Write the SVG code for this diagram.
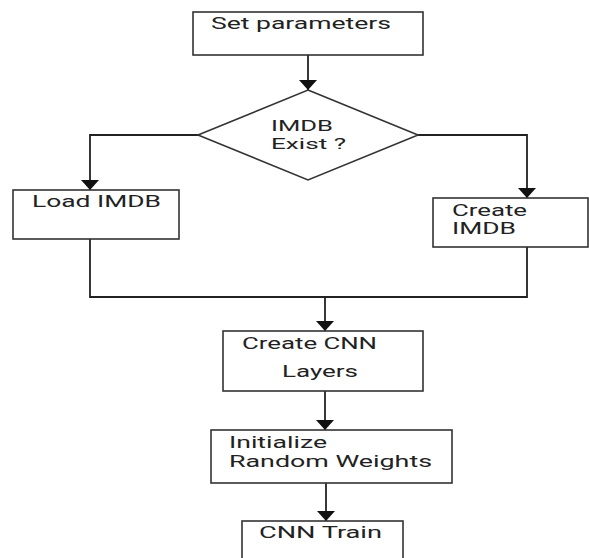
<svg xmlns="http://www.w3.org/2000/svg" width="589" height="558" viewBox="0 0 589 558">
<style>
.box{fill:#fff;stroke:#333;stroke-width:1.6}
.t{font-family:Roboto,"Liberation Sans",sans-serif;font-size:16px;fill:#222}
.s{font-size:15px}
.c{fill:none;stroke:#222;stroke-width:1.8}
</style>
<defs>
<marker id="ah" viewBox="0 0 10 18" refX="10" refY="9" markerWidth="10" markerHeight="18" markerUnits="userSpaceOnUse" orient="auto">
<path d="M0,0 L10,9 L0,18 z" fill="#111"/>
</marker>
</defs>
<rect width="589" height="558" fill="#fff"/>
<g id="connectors">
<path class="c" d="M308,55 V90" marker-end="url(#ah)"/>
<path class="c" d="M198,135 H90 V190" marker-end="url(#ah)"/>
<path class="c" d="M418,135 H527 V198" marker-end="url(#ah)"/>
<path class="c" d="M90,239 V297 H527 V247"/>
<path class="c" d="M325,297 V331" marker-end="url(#ah)"/>
<path class="c" d="M325,391 V430" marker-end="url(#ah)"/>
<path class="c" d="M326,483 V521" marker-end="url(#ah)"/>
</g>
<g id="set-parameters">
<rect class="box" x="193" y="12" width="230" height="43"/>
<text class="t" x="211" y="29" textLength="180" lengthAdjust="spacingAndGlyphs">Set parameters</text>
</g>
<g id="imdb-exist">
<polygon class="box" points="308,90 418,135 308,180 198,135"/>
<text class="t s" x="271" y="131" textLength="62" lengthAdjust="spacingAndGlyphs">IMDB</text>
<text class="t s" x="271" y="149" textLength="75" lengthAdjust="spacingAndGlyphs">Exist ?</text>
</g>
<g id="load-imdb">
<rect class="box" x="13" y="190" width="166" height="49"/>
<text class="t" x="32" y="207" textLength="129" lengthAdjust="spacingAndGlyphs">Load IMDB</text>
</g>
<g id="create-imdb">
<rect class="box" x="433" y="198" width="155" height="49"/>
<text class="t" x="452" y="216" textLength="75" lengthAdjust="spacingAndGlyphs">Create</text>
<text class="t" x="452" y="234" textLength="64" lengthAdjust="spacingAndGlyphs">IMDB</text>
</g>
<g id="create-cnn-layers">
<rect class="box" x="223" y="331" width="200" height="60"/>
<text class="t" x="242" y="349" textLength="135" lengthAdjust="spacingAndGlyphs">Create CNN</text>
<text class="t" x="282" y="377" textLength="76" lengthAdjust="spacingAndGlyphs">Layers</text>
</g>
<g id="initialize-random-weights">
<rect class="box" x="211" y="430" width="241" height="53"/>
<text class="t" x="229" y="448" textLength="98" lengthAdjust="spacingAndGlyphs">Initialize</text>
<text class="t" x="229" y="467" textLength="203" lengthAdjust="spacingAndGlyphs">Random Weights</text>
</g>
<g id="cnn-train">
<rect class="box" x="242" y="521" width="161" height="45"/>
<text class="t" x="259" y="538" textLength="123" lengthAdjust="spacingAndGlyphs">CNN Train</text>
</g>
</svg>
